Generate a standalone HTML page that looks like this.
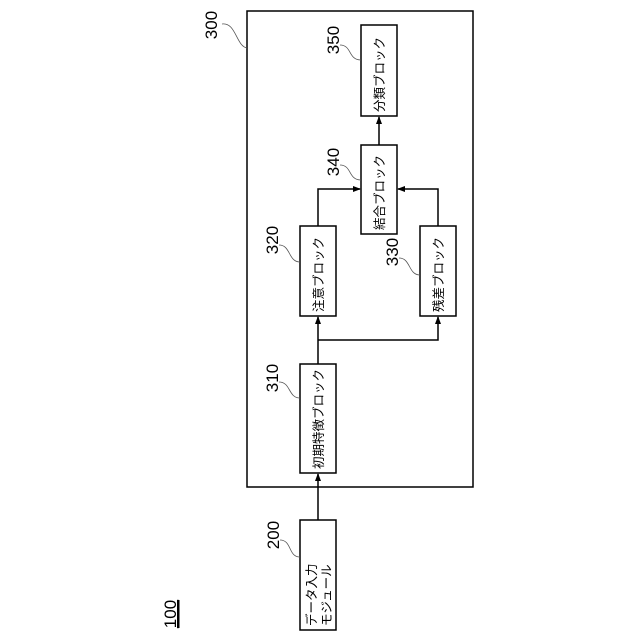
<!DOCTYPE html>
<html><head><meta charset="utf-8"><style>html,body{margin:0;padding:0;background:#fff}svg{display:block}</style></head>
<body>
<svg width="640" height="640" viewBox="0 0 640 640" xmlns="http://www.w3.org/2000/svg" font-family="Liberation Sans, Noto Sans CJK JP, sans-serif">
<defs><marker id="a" markerWidth="8" markerHeight="8" refX="7" refY="4" orient="auto" markerUnits="userSpaceOnUse"><path d="M0,1 L8,4 L0,7 Z" fill="#000"/></marker></defs>
<g fill="none" stroke="#000" stroke-width="1.5">
<rect x="247" y="11" width="226" height="476"/>
<rect x="361" y="25" width="36" height="91"/>
<rect x="361" y="145" width="36" height="89"/>
<rect x="300" y="226" width="36" height="90"/>
<rect x="420" y="226" width="36" height="90"/>
<rect x="300" y="364" width="36" height="109"/>
<rect x="300" y="520" width="36" height="110"/>
<path d="M318,520 V474" marker-end="url(#a)"/>
<path d="M318,364 V317" marker-end="url(#a)"/>
<path d="M318,340 H438 V317" marker-end="url(#a)"/>
<path d="M318,226 V189 H360" marker-end="url(#a)"/>
<path d="M438,226 V189 H398" marker-end="url(#a)"/>
<path d="M379,145 V117" marker-end="url(#a)"/>
</g>
<g fill="none" stroke="#555" stroke-width="0.8">
<path d="M222,24 C236,22 236,46 247,48"/>
<path d="M340,45 C352,45 348,60 361,60"/>
<path d="M340,165 C352,165 348,180 361,180"/>
<path d="M279,245 C291,245 288,262 300,262"/>
<path d="M399,258 C411,258 408,275 420,275"/>
<path d="M279,382 C291,382 288,398 300,398"/>
<path d="M280,540 C292,540 288,557 300,557"/>
</g>
<g font-size="17" fill="#000" text-anchor="middle">
<text transform="translate(217,25) rotate(-90)">300</text>
<text transform="translate(339,40) rotate(-90)">350</text>
<text transform="translate(339,162) rotate(-90)">340</text>
<text transform="translate(278,240) rotate(-90)">320</text>
<text transform="translate(398,252) rotate(-90)">330</text>
<text transform="translate(278,378) rotate(-90)">310</text>
<text transform="translate(279,535) rotate(-90)">200</text>
<text transform="translate(176,614) rotate(-90)" text-decoration="underline">100</text>
</g>
<line x1="179" y1="600" x2="179" y2="628" stroke="#000" stroke-width="1"/>
<g font-size="12.5" fill="#000">
<text transform="translate(384,112) rotate(-90)">分類ブロック</text>
<text transform="translate(384,230) rotate(-90)">結合ブロック</text>
<text transform="translate(323,312) rotate(-90)">注意ブロック</text>
<text transform="translate(443,312) rotate(-90)">残差ブロック</text>
<text transform="translate(323,469) rotate(-90)">初期特徴ブロック</text>
<text transform="translate(316,626) rotate(-90)">データ入力</text>
<text transform="translate(331,626) rotate(-90)">モジュール</text>
</g>
</svg>
</body></html>
